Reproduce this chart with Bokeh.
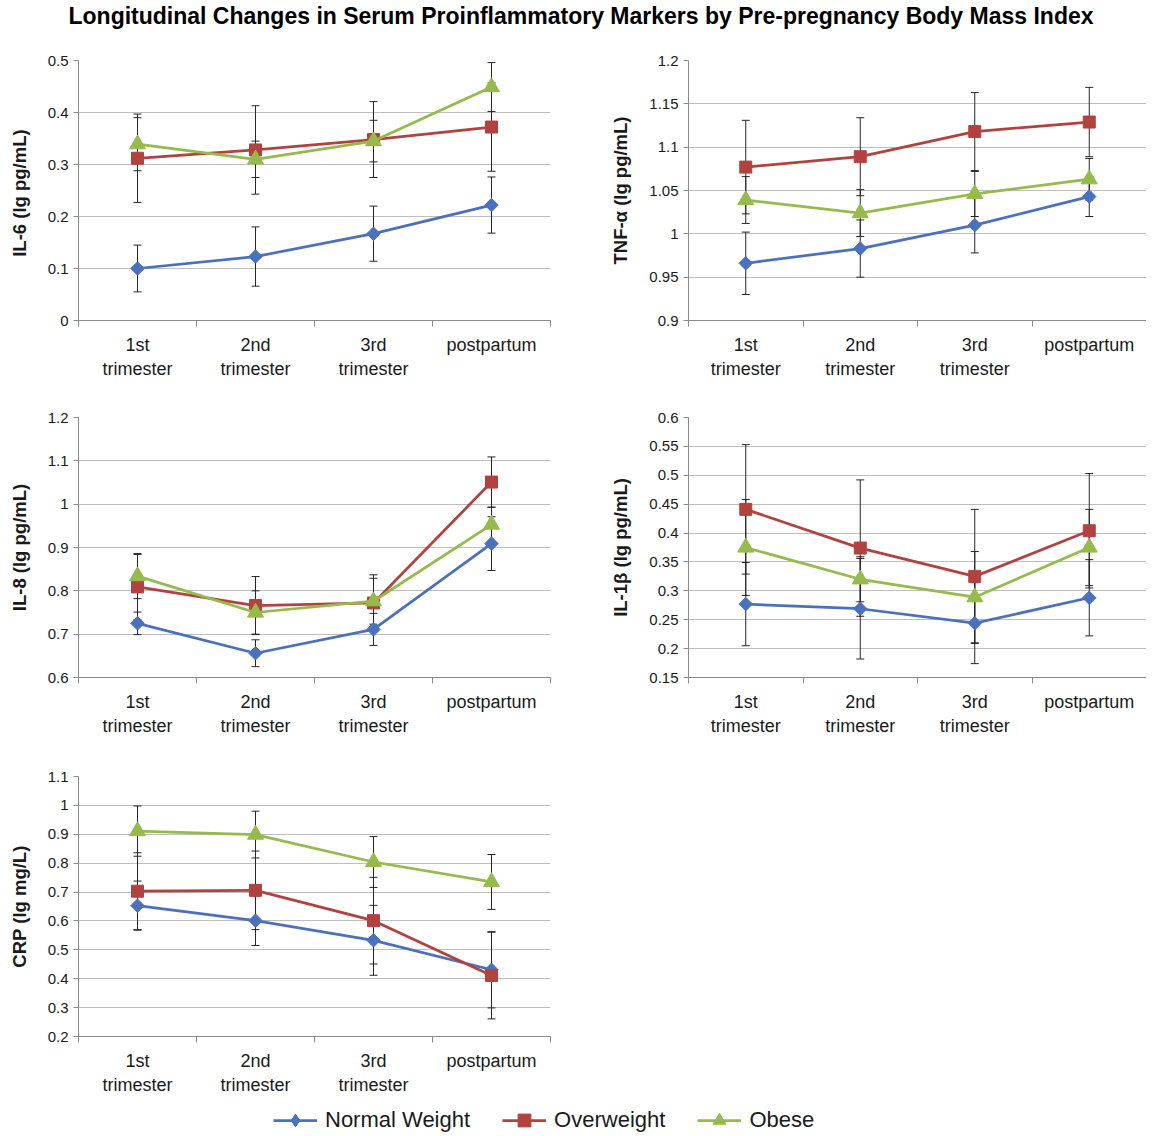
import numpy as np
from bokeh.plotting import figure
from bokeh.models import (ColumnDataSource, Range1d, FixedTicker, PrintfTickFormatter,
                          Whisker, TeeHead, Legend, LegendItem)
from bokeh.layouts import column, row
from bokeh.embed import file_html
from bokeh.resources import INLINE
from bokeh.core.validation import silence
from bokeh.core.validation.warnings import MISSING_RENDERERS

silence(MISSING_RENDERERS, True)

TITLE = "Longitudinal Changes in Serum Proinflammatory Markers by Pre-pregnancy Body Mass Index"
categories = ["1st\ntrimester", "2nd\ntrimester", "3rd\ntrimester", "postpartum"]
series_names = ["Normal Weight", "Overweight", "Obese"]

# IL-6
il6_label = "IL-6  (lg pg/mL)"
il6_ticks = [0, 0.1, 0.2, 0.3, 0.4, 0.5]
il6_normal = [0.100, 0.123, 0.167, 0.222]
il6_normal_err = [0.045, 0.057, 0.053, 0.054]
il6_over = [0.312, 0.328, 0.348, 0.372]
il6_over_err = [0.085, 0.085, 0.073, 0.085]
il6_obese = [0.339, 0.310, 0.345, 0.449]
il6_obese_err = [0.051, 0.035, 0.040, 0.047]

# TNF-alpha
tnf_label = "TNF-α (lg pg/mL)"
tnf_ticks = [0.9, 0.95, 1.0, 1.05, 1.1, 1.15, 1.2]
tnf_normal = [0.966, 0.983, 1.010, 1.043]
tnf_normal_err = [0.036, 0.033, 0.032, 0.023]
tnf_over = [1.077, 1.089, 1.118, 1.129]
tnf_over_err = [0.054, 0.045, 0.045, 0.040]
tnf_obese = [1.039, 1.024, 1.046, 1.063]
tnf_obese_err = [0.027, 0.027, 0.026, 0.024]

# IL-8
il8_label = "IL-8 (lg pg/mL)"
il8_ticks = [0.6, 0.7, 0.8, 0.9, 1.0, 1.1, 1.2]
il8_normal = [0.725, 0.656, 0.711, 0.909]
il8_normal_err = [0.026, 0.031, 0.037, 0.062]
il8_over = [0.809, 0.766, 0.772, 1.051]
il8_over_err = [0.075, 0.067, 0.065, 0.058]
il8_obese = [0.834, 0.750, 0.776, 0.953]
il8_obese_err = [0.052, 0.050, 0.053, 0.040]

# IL-1beta
il1b_label = "IL-1β (lg pg/mL)"
il1b_ticks = [0.15, 0.2, 0.25, 0.3, 0.35, 0.4, 0.45, 0.5, 0.55, 0.6]
il1b_normal = [0.277, 0.269, 0.244, 0.288]
il1b_normal_err = [0.072, 0.087, 0.070, 0.066]
il1b_over = [0.441, 0.374, 0.325, 0.404]
il1b_over_err = [0.112, 0.118, 0.116, 0.099]
il1b_obese = [0.375, 0.320, 0.289, 0.375]
il1b_obese_err = [0.083, 0.039, 0.079, 0.066]

# CRP
crp_label = "CRP (lg mg/L)"
crp_ticks = [0.2, 0.3, 0.4, 0.5, 0.6, 0.7, 0.8, 0.9, 1.0, 1.1]
crp_normal = [0.653, 0.601, 0.533, 0.431]
crp_normal_err = [0.085, 0.086, 0.121, 0.132]
crp_over = [0.703, 0.706, 0.601, 0.411]
crp_over_err = [0.133, 0.136, 0.150, 0.150]
crp_obese = [0.911, 0.899, 0.804, 0.735]
crp_obese_err = [0.087, 0.081, 0.088, 0.095]

COLORS = ["#4A70BE", "#B2423F", "#96BA4B"]
MARKERS = [("square", 9.5, np.pi / 4), ("square", 12, 0.0), ("triangle", 16, 0.0)]
LEGEND_MARKERS = ["diamond", "square", "triangle"]
FONT = "Liberation Sans"
GRID = "#BEBEBE"
AXIS = "#8A8A8A"
TXT = "#1a1a1a"


def add_series(p, means, errs, idx):
    xs = [i + 0.5 for i in range(len(categories))]
    m = np.array(means)
    e = np.array(errs)
    src = ColumnDataSource(dict(x=xs, y=m, upper=m + e, lower=m - e))
    w = Whisker(source=src, base="x", upper="upper", lower="lower",
                line_color="#262626", line_width=1,
                upper_head=TeeHead(size=8, line_color="#262626", line_width=1),
                lower_head=TeeHead(size=8, line_color="#262626", line_width=1))
    p.add_layout(w)
    p.line("x", "y", source=src, line_color=COLORS[idx], line_width=2.75)
    mk, sz, ang = MARKERS[idx]
    p.scatter("x", "y", source=src, marker=mk, size=sz, angle=ang,
              fill_color=COLORS[idx], line_color=COLORS[idx])


def make_panel(label, ticks, series, width, height, left, right, top, bottom):
    p = figure(width=width, height=height, title=None, toolbar_location=None,
               output_backend="svg", min_border_left=left, min_border_right=right,
               min_border_top=top, min_border_bottom=bottom,
               x_range=Range1d(0, len(categories)), y_range=Range1d(ticks[0], ticks[-1]))
    p.outline_line_color = None
    p.xgrid.grid_line_color = None
    p.ygrid.grid_line_color = GRID
    p.ygrid.grid_line_width = 1

    xs = [i + 0.5 for i in range(len(categories))]
    p.xaxis.ticker = FixedTicker(ticks=xs, minor_ticks=list(range(len(categories) + 1)))
    p.xaxis.major_label_overrides = {x: c for x, c in zip(xs, categories)}
    p.xaxis.major_tick_line_color = None
    p.xaxis.minor_tick_line_color = AXIS
    p.xaxis.minor_tick_in = 0
    p.xaxis.minor_tick_out = 6
    p.xaxis.axis_line_color = AXIS
    p.xaxis.major_label_standoff = 8
    p.xaxis.major_label_text_font = FONT
    p.xaxis.major_label_text_font_size = "18px"
    p.xaxis.major_label_text_color = TXT

    p.yaxis.ticker = FixedTicker(ticks=ticks, minor_ticks=[])
    p.yaxis.formatter = PrintfTickFormatter(format="%g")
    p.yaxis.axis_line_color = AXIS
    p.yaxis.major_tick_line_color = AXIS
    p.yaxis.major_tick_in = 0
    p.yaxis.major_tick_out = 5
    p.yaxis.major_label_standoff = 5
    p.yaxis.major_label_text_font = FONT
    p.yaxis.major_label_text_font_size = "15px"
    p.yaxis.major_label_text_color = TXT
    p.yaxis.axis_label = label
    p.yaxis.axis_label_text_font = FONT
    p.yaxis.axis_label_text_font_style = "bold"
    p.yaxis.axis_label_text_font_size = "18.5px"
    p.yaxis.axis_label_text_color = TXT
    p.yaxis.axis_label_standoff = 15

    for i, (m, e) in enumerate(series):
        add_series(p, m, e, i)
    return p


LW, RW = 600, 546
p1 = make_panel(il6_label, il6_ticks,
                [(il6_normal, il6_normal_err), (il6_over, il6_over_err), (il6_obese, il6_obese_err)],
                LW, 357, 78, 50, 18, 79)
p2 = make_panel(tnf_label, tnf_ticks,
                [(tnf_normal, tnf_normal_err), (tnf_over, tnf_over_err), (tnf_obese, tnf_obese_err)],
                RW, 357, 88, 0, 18, 79)
p3 = make_panel(il8_label, il8_ticks,
                [(il8_normal, il8_normal_err), (il8_over, il8_over_err), (il8_obese, il8_obese_err)],
                LW, 359, 78, 50, 18, 81)
p4 = make_panel(il1b_label, il1b_ticks,
                [(il1b_normal, il1b_normal_err), (il1b_over, il1b_over_err), (il1b_obese, il1b_obese_err)],
                RW, 359, 88, 0, 18, 81)
p5 = make_panel(crp_label, crp_ticks,
                [(crp_normal, crp_normal_err), (crp_over, crp_over_err), (crp_obese, crp_obese_err)],
                LW, 346, 78, 50, 18, 68)

# title figure
pt = figure(width=1146, height=42, toolbar_location=None, output_backend="svg",
            x_axis_location=None, y_axis_location=None, min_border=0,
            x_range=Range1d(0, 1), y_range=Range1d(0, 1))
pt.title.text = TITLE
pt.title.text_font = FONT
pt.title.text_font_size = "23px"
pt.title.text_font_style = "bold"
pt.title.text_color = "#000000"
pt.title.align = "left"
pt.title.offset = 68
pt.title.standoff = 0
pt.outline_line_color = None
pt.grid.grid_line_color = None

# legend figure (legend proxies sit outside the visible range)
pl = figure(width=1146, height=32, toolbar_location=None, output_backend="svg",
            x_axis_location=None, y_axis_location=None, min_border=0,
            x_range=Range1d(0, 1), y_range=Range1d(0, 1))
pl.outline_line_color = None
pl.grid.grid_line_color = None
items = []
for i, name in enumerate(series_names):
    src = ColumnDataSource(dict(x=[-5.0], y=[-5.0]))
    ln = pl.line("x", "y", source=src, line_color=COLORS[i], line_width=2.75)
    sc = pl.scatter("x", "y", source=src, marker=LEGEND_MARKERS[i], size=12,
                    fill_color=COLORS[i], line_color=COLORS[i])
    items.append(LegendItem(label=name, renderers=[ln, sc]))
leg = Legend(items=items, orientation="horizontal", location=(273, 0),
             label_text_font=FONT, label_text_font_size="22px", label_text_color=TXT,
             glyph_width=44, glyph_height=32, label_standoff=8, spacing=32,
             padding=0, margin=0, border_line_color=None, background_fill_alpha=0)
pl.add_layout(leg, "center")

layout = column(pt, row(p1, p2), row(p3, p4), row(p5), pl)
open("out.html", "w").write(file_html(layout, INLINE))
